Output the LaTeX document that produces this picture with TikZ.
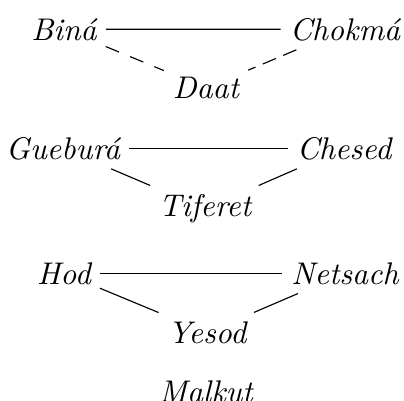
\documentclass[tikz,border=0pt]{standalone}
\begin{document}
\begin{tikzpicture}[x=0.34965pt, y=-0.34965pt,
  sefira/.style={inner sep=3pt, anchor=base, font=\fontsize{10.95}{13.6}\selectfont\itshape},
  link/.style={line width=0.4pt},
  dashlinkl/.style={line width=0.4pt, dash pattern=on 5pt off 4.18pt},
  dashlinkr/.style={line width=0.4pt, dash pattern=on 5pt off 2.75pt}]
\useasboundingbox (0,0) rectangle (404,400);
\node[sefira] (bina)    at (64,40)    {Bin\'a};
\node[sefira] (chokma)  at (345,40)   {Chokm\'a};
\node[sefira] (daat)    at (206,98.5) {Daat};
\node[sefira] (gebura)  at (63,159)   {Guebur\'a};
\node[sefira] (chesed)  at (344,159)  {Chesed};
\node[sefira] (tiferet) at (205,216.7) {Tiferet};
\node[sefira] (hod)     at (64,284)   {Hod};
\node[sefira] (netsach) at (345,284)  {Netsach};
\node[sefira] (yesod)   at (207,343.3) {Yesod};
\node[sefira] (malkut)  at (206,402)  {Malkut};
\draw[link] (bina) -- (chokma);
\draw[dashlinkl] (bina) -- (daat);
\draw[dashlinkr] (chokma) -- (daat);
\draw[link] (gebura) -- (chesed);
\draw[link] (gebura) -- (tiferet);
\draw[link] (chesed) -- (tiferet);
\draw[link] (hod) -- (netsach);
\draw[link] (hod) -- (yesod);
\draw[link] (netsach) -- (yesod);
\end{tikzpicture}
\end{document}
